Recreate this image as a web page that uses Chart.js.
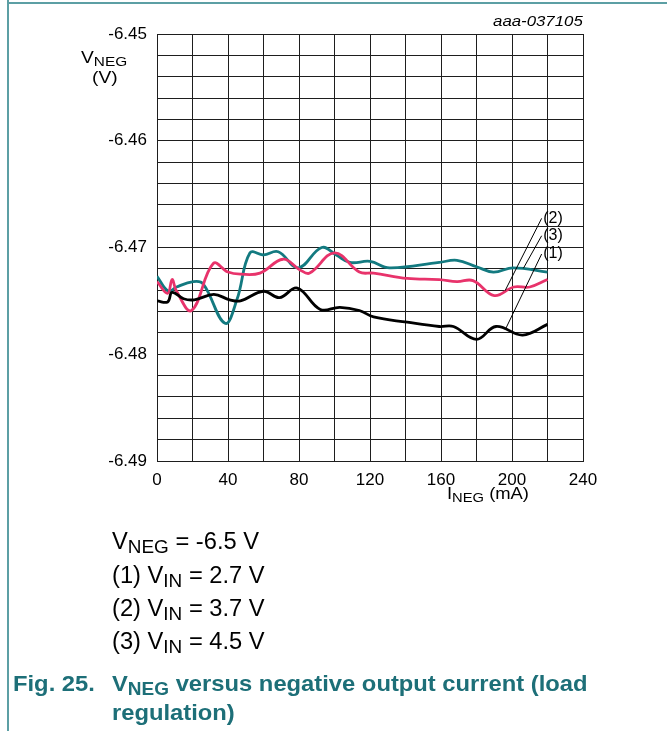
<!DOCTYPE html>
<html lang="en">
<head>
    <meta charset="UTF-8">
    <title>VNEG versus negative output current</title>
    <style>
        body {
            margin: 0;
            width: 667px;
            height: 731px;
            background: #fff;
            position: relative;
            overflow: hidden;
            font-family: "Liberation Sans", Arial, sans-serif;
        }
        #wrap {
            position: absolute;
            left: 0;
            top: 0;
            width: 667px;
            height: 731px;
        }
        .txt {
            position: absolute;
            line-height: 1;
            white-space: nowrap;
            color: #000;
            transform-origin: left top;
        }
        .sb {
            font-size: 0.8em;
            position: relative;
            top: 0.22em;
        }
        .cap {
            color: #1d6f78;
            font-weight: bold;
            font-size: 22px;
            transform: scaleX(1.08);
        }
        .leg {
            font-size: 23px;
            left: 112px;
            transform: scaleX(1.03);
        }
        #edgeLeft {
            position: absolute;
            left: 7px;
            top: 0;
            width: 2px;
            height: 731px;
            background: #5c9fa4;
        }
        #edgeTop {
            position: absolute;
            left: 7px;
            top: 2px;
            width: 660px;
            height: 2px;
            background: #5c9fa4;
        }
    </style>
    <script src="https://cdn.jsdelivr.net/npm/chart.js"></script>
</head>
<body>
    <div id="edgeLeft"></div>
    <div id="edgeTop"></div>
    <div id="wrap"><canvas id="chart" width="667" height="731"></canvas></div>

    <div class="txt" style="right:84px; top:14px; font-size:14px; font-style:italic; transform-origin:right top; transform:scaleX(1.2);">aaa-037105</div>
    <div class="txt" style="left:81px; top:50px; font-size:16px; transform:scaleX(1.2);">V<span class="sb">NEG</span></div>
    <div class="txt" style="left:92px; top:70px; font-size:16px; transform:scaleX(1.2);">(V)</div>
    <div class="txt" style="left:447px; top:486px; font-size:16px; transform:scaleX(1.15);">I<span class="sb">NEG</span> (mA)</div>

    <div class="txt leg" style="top:530px;">V<span class="sb">NEG</span> = -6.5 V</div>
    <div class="txt leg" style="top:564px;">(1) V<span class="sb">IN</span> = 2.7 V</div>
    <div class="txt leg" style="top:597px;">(2) V<span class="sb">IN</span> = 3.7 V</div>
    <div class="txt leg" style="top:630px;">(3) V<span class="sb">IN</span> = 4.5 V</div>

    <div class="txt cap" style="left:13px; top:673px;">Fig. 25.</div>
    <div class="txt cap" style="left:112px; top:673px;">V<span class="sb">NEG</span> versus negative output current (load</div>
    <div class="txt cap" style="left:112px; top:702px;">regulation)</div>

    <script>
        // curve (1) VIN = 2.7 V
        const iNeg1 = [0, 6, 8.5, 15, 21, 32, 41, 47, 60, 69, 79, 92, 103, 114, 122, 141, 159, 167, 180, 191, 206, 220];
        const vNeg1 = [-6.4750, -6.4751, -6.4742, -6.4748, -6.4749, -6.4744, -6.4749, -6.4750, -6.4741, -6.4747, -6.4738,
            -6.4758, -6.4756, -6.4759, -6.4765, -6.4770, -6.4774, -6.4774, -6.4786, -6.4774, -6.4782, -6.4772];

        // curve (2) VIN = 3.7 V
        const iNeg2 = [0, 6, 8.5, 11, 19.5, 31.7, 40, 47, 58, 71, 80.6, 86, 100, 114, 122, 141, 159, 169, 178, 190, 201, 210, 220];
        const vNeg2 = [-6.4732, -6.4743, -6.4730, -6.4741, -6.4759, -6.4715, -6.4723, -6.4725, -6.4724, -6.4711, -6.4721,
            -6.4724, -6.4705, -6.4723, -6.4724, -6.4729, -6.4730, -6.4732, -6.4731, -6.4745, -6.4737, -6.4737, -6.4730];

        // curve (3) VIN = 4.5 V
        const iNeg3 = [0, 6.4, 11, 20.5, 26, 38.3, 45, 52.4, 60, 68.3, 79.6, 92.8, 101, 108.7, 120, 131, 159, 169, 180, 189.5, 200.7, 220];
        const vNeg3 = [-6.4727, -6.4741, -6.4737, -6.4732, -6.4734, -6.4771, -6.4749, -6.4705, -6.4707, -6.4704, -6.4719,
            -6.4700, -6.4707, -6.4714, -6.4713, -6.4719, -6.4714, -6.4712, -6.4718, -6.4723, -6.4719, -6.4723];

        // callout labels and their leader lines (data units)
        const calloutText = ['(2)', '(3)', '(1)'];
        const calloutTextX = [217.6, 217.6, 217.6];
        const calloutTextY = [-6.46727, -6.46890, -6.47061];
        const calloutFromX = [216.7, 216.7, 216.7];
        const calloutFromY = [-6.46727, -6.46890, -6.47061];
        const calloutToX = [196.1, 206.4, 196.1];
        const calloutToY = [-6.47405, -6.47195, -6.47773];

        function toPoints(xs, ys) {
            return xs.map((x, i) => ({ x: x, y: ys[i] }));
        }

        const callouts = {
            id: 'callouts',
            afterDatasetsDraw(chart) {
                const ctx = chart.ctx;
                const sx = chart.scales.x;
                const sy = chart.scales.y;
                ctx.save();
                ctx.strokeStyle = '#000';
                ctx.lineWidth = 1;
                ctx.fillStyle = '#000';
                ctx.font = '16px "Liberation Sans", Arial, sans-serif';
                ctx.textAlign = 'left';
                ctx.textBaseline = 'middle';
                for (let i = 0; i < calloutText.length; i++) {
                    ctx.beginPath();
                    ctx.moveTo(sx.getPixelForValue(calloutFromX[i]), sy.getPixelForValue(calloutFromY[i]));
                    ctx.lineTo(sx.getPixelForValue(calloutToX[i]), sy.getPixelForValue(calloutToY[i]));
                    ctx.stroke();
                    ctx.fillText(calloutText[i], sx.getPixelForValue(calloutTextX[i]), sy.getPixelForValue(calloutTextY[i]));
                }
                ctx.restore();
            }
        };

        const tickFont = { family: '"Liberation Sans", Arial, sans-serif', size: 17 };

        new Chart(document.getElementById('chart').getContext('2d'), {
            type: 'scatter',
            data: {
                datasets: [
                    {
                        label: '(1)',
                        data: toPoints(iNeg1, vNeg1),
                        borderColor: '#000000',
                        borderWidth: 2.8,
                        showLine: true,
                        pointRadius: 0,
                        tension: 0.4
                    },
                    {
                        label: '(2)',
                        data: toPoints(iNeg2, vNeg2),
                        borderColor: '#e8336b',
                        borderWidth: 2.8,
                        showLine: true,
                        pointRadius: 0,
                        tension: 0.4
                    },
                    {
                        label: '(3)',
                        data: toPoints(iNeg3, vNeg3),
                        borderColor: '#137a80',
                        borderWidth: 2.8,
                        showLine: true,
                        pointRadius: 0,
                        tension: 0.4
                    }
                ]
            },
            options: {
                responsive: false,
                animation: false,
                devicePixelRatio: 1,
                layout: { padding: { left: 0, top: 34, right: 84, bottom: 0 } },
                plugins: {
                    legend: { display: false },
                    tooltip: { enabled: false }
                },
                scales: {
                    x: {
                        type: 'linear',
                        min: 0,
                        max: 240,
                        afterFit: (s) => { s.height = 270; },
                        ticks: {
                            stepSize: 20,
                            autoSkip: false,
                            maxRotation: 0,
                            padding: 9,
                            color: '#000',
                            font: tickFont,
                            callback: (v) => (v % 40 === 0 ? String(v) : '')
                        },
                        grid: { color: '#1e1e1e', lineWidth: 1, drawTicks: false },
                        border: { color: '#1e1e1e', width: 1 }
                    },
                    y: {
                        min: -6.49,
                        max: -6.45,
                        afterFit: (s) => { s.width = 157; },
                        ticks: {
                            stepSize: 0.002,
                            autoSkip: false,
                            padding: 10,
                            color: '#000',
                            font: tickFont,
                            callback: (v) => (Math.abs(Math.round(v * 1000)) % 10 === 0 ? v.toFixed(2) : '')
                        },
                        grid: { color: '#1e1e1e', lineWidth: 1, drawTicks: false },
                        border: { color: '#1e1e1e', width: 1 }
                    }
                }
            },
            plugins: [callouts]
        });
    </script>
</body>
</html>
